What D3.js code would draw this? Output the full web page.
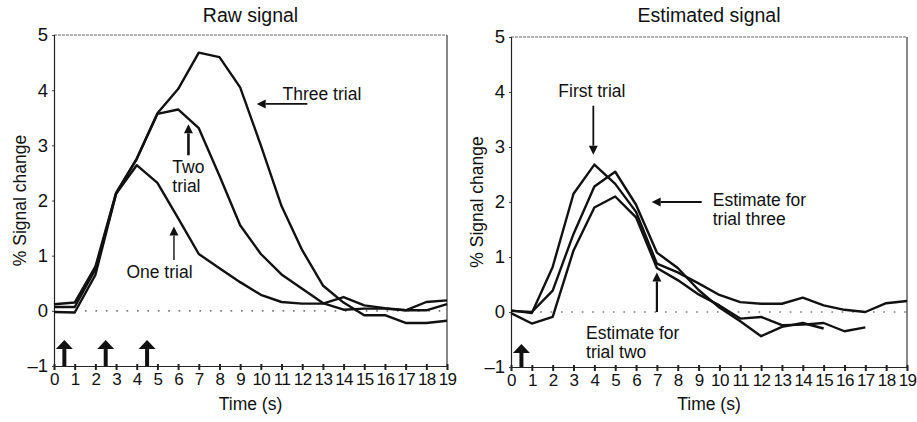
<!DOCTYPE html>
<html>
<head>
<meta charset="utf-8">
<script src="https://cdn.jsdelivr.net/npm/d3@7"></script>
<style>
  html, body { margin: 0; padding: 0; background: #fff; }
  svg { display: block; font-family: "Liberation Sans", Arial, sans-serif; }
</style>
</head>
<body>
<svg id="chart" width="917" height="422"></svg>
<script>
// Time axis (seconds) and tick labels
const timeTicks = d3.range(0, 20);
const valueTicks = [-1, 0, 1, 2, 3, 4, 5];

// Raw signal: percent signal change for one, two and three trials
const rawOneTrial   = [-0.02, -0.03, 0.65, 2.12, 2.64, 2.32, 1.68, 1.03, 0.77, 0.52, 0.29, 0.16, 0.13, 0.13, 0.25, 0.10, 0.05, 0.01, 0.16, 0.19];
const rawTwoTrial   = [0.07, 0.07, 0.75, 2.12, 2.75, 3.57, 3.65, 3.31, 2.45, 1.55, 1.03, 0.66, 0.40, 0.14, 0.02, 0.04, 0.04, 0.01, 0.01, 0.12];
const rawThreeTrial = [0.12, 0.15, 0.80, 2.14, 2.76, 3.58, 4.02, 4.68, 4.60, 4.05, 3.00, 1.90, 1.10, 0.46, 0.15, -0.08, -0.08, -0.22, -0.22, -0.18];

// Estimated signal: first trial and the estimates recovered for trials two and three
const estFirstTrial = [0.03, -0.02, 0.82, 2.15, 2.68, 2.33, 1.82, 0.88, 0.72, 0.52, 0.31, 0.18, 0.15, 0.15, 0.26, 0.12, 0.04, 0.00, 0.16, 0.20];
const estTrialTwo   = [-0.02, -0.21, -0.09, 1.12, 1.90, 2.10, 1.72, 0.80, 0.58, 0.32, 0.12, -0.12, -0.09, -0.24, -0.23, -0.20, -0.35, -0.28];
const estTrialThree = [0.02, 0.00, 0.39, 1.42, 2.28, 2.55, 1.95, 1.08, 0.80, 0.40, 0.08, -0.17, -0.44, -0.27, -0.20, -0.30];

// Stimulus onsets (s)
const rawOnsets = [0.5, 2.5, 4.5];
const estOnsets = [0.5];

const svg = d3.select("#chart");

const panels = [
  {
    title: "Raw signal",
    xr: [54, 447], yr: [366, 35],
    series: [rawOneTrial, rawTwoTrial, rawThreeTrial],
    onsets: rawOnsets, onsetTop: -0.53,
    zeroFrom: 1.5,
    arrows: [
      { from: [12.25, 3.75], to: [9.8, 3.75], w: 1.8 },
      { from: [6.5, 2.82], to: [6.5, 3.38], w: 2.6 },
      { from: [5.8, 0.92], to: [5.8, 1.53], w: 1.4 }
    ],
    labels: [
      { t: 11.05, v: 3.93, lines: ["Three trial"], anchor: "start" },
      { t: 5.72, v: 2.6, lines: ["Two", "trial"], anchor: "start" },
      { t: 5.1, v: 0.7, lines: ["One trial"], anchor: "middle" }
    ]
  },
  {
    title: "Estimated signal",
    xr: [511, 907], yr: [367, 37],
    series: [estFirstTrial, estTrialTwo, estTrialThree],
    onsets: estOnsets, onsetTop: -0.58,
    zeroFrom: 1.4,
    arrows: [
      { from: [3.95, 3.75], to: [3.95, 2.86], w: 1.8 },
      { from: [9.15, 2.0], to: [6.75, 2.0], w: 1.8 },
      { from: [7.0, 0.0], to: [7.0, 0.72], w: 2.2 }
    ],
    labels: [
      { t: 3.88, v: 4.02, lines: ["First trial"], anchor: "middle" },
      { t: 9.68, v: 2.04, lines: ["Estimate for", "trial three"], anchor: "start" },
      { t: 3.6, v: -0.38, lines: ["Estimate for", "trial two"], anchor: "start" }
    ]
  }
];

panels.forEach(p => {
  const x = d3.scaleLinear().domain([0, 19]).range(p.xr);
  const y = d3.scaleLinear().domain([-1, 5]).range(p.yr);
  const g = svg.append("g");

  // Frame: light top and right edges
  g.append("line")
    .attr("x1", x(0)).attr("x2", x(19)).attr("y1", y(5)).attr("y2", y(5))
    .attr("stroke", "#9a9a9a").attr("stroke-width", 1.3).attr("stroke-dasharray", "3,1");
  g.append("line")
    .attr("x1", x(19)).attr("x2", x(19)).attr("y1", y(5)).attr("y2", y(-1))
    .attr("stroke", "#555").attr("stroke-width", 1.4);

  // Zero reference (dotted)
  g.append("line")
    .attr("x1", x(p.zeroFrom)).attr("x2", x(19)).attr("y1", y(0)).attr("y2", y(0))
    .attr("stroke", "#777").attr("stroke-width", 1.6).attr("stroke-dasharray", "1.6,8.8");

  // Axes
  const xAxis = d3.axisBottom(x).tickValues(timeTicks).tickFormat(d3.format("d"))
    .tickSize(4).tickPadding(3);
  const gx = g.append("g").attr("transform", `translate(0,${y(-1)})`).call(xAxis);
  gx.select(".domain").attr("stroke", "#222").attr("stroke-width", 1.2);
  gx.selectAll(".tick line").attr("stroke", "#222").attr("stroke-width", 2).attr("y1", -2);
  gx.selectAll(".tick text").attr("font-size", 17).attr("fill", "#111")
    .attr("font-family", "Liberation Sans, Arial, sans-serif").attr("letter-spacing", "-0.6");

  const yAxis = d3.axisLeft(y).tickValues(valueTicks)
    .tickFormat(d => d < 0 ? "\u2013" + Math.abs(d) : d).tickSize(2).tickPadding(4);
  const gy = g.append("g").attr("transform", `translate(${x(0)},0)`).call(yAxis);
  gy.select(".domain").attr("stroke", "#222").attr("stroke-width", 1.2);
  gy.selectAll(".tick line").attr("stroke", "#444");
  gy.selectAll(".tick text").attr("font-size", 18.5).attr("fill", "#111")
    .attr("font-family", "Liberation Sans, Arial, sans-serif");

  // Title and axis titles
  const cx = (p.xr[0] + p.xr[1]) / 2;
  g.append("text").attr("x", cx).attr("y", 22).attr("text-anchor", "middle")
    .attr("font-size", 19.5).attr("fill", "#111").text(p.title);
  g.append("text").attr("x", cx).attr("y", 410).attr("text-anchor", "middle")
    .attr("font-size", 17.5).attr("fill", "#111").text("Time (s)");
  g.append("text")
    .attr("transform", `translate(${p.xr[0] - 34},${(y(-1) + y(5)) / 2}) rotate(-90)`)
    .attr("text-anchor", "middle").attr("dominant-baseline", "central")
    .attr("font-size", 17.5).attr("fill", "#111").text("% Signal change");

  // Signal curves
  const line = d3.line().x((d, i) => x(i)).y(d => y(d));
  p.series.forEach(s => {
    g.append("path").datum(s).attr("d", line)
      .attr("fill", "none").attr("stroke", "#111").attr("stroke-width", 2.4)
      .attr("stroke-linejoin", "round");
  });

  // Arrow helper: shaft plus filled head
  function arrow(x1, y1, x2, y2, w, headLen, headW) {
    const ang = Math.atan2(y2 - y1, x2 - x1);
    const bx = x2 - headLen * Math.cos(ang), by = y2 - headLen * Math.sin(ang);
    g.append("line").attr("x1", x1).attr("y1", y1).attr("x2", bx).attr("y2", by)
      .attr("stroke", "#111").attr("stroke-width", w);
    const nx = -Math.sin(ang) * headW / 2, ny = Math.cos(ang) * headW / 2;
    g.append("path")
      .attr("d", `M${x2},${y2}L${bx + nx},${by + ny}L${bx - nx},${by - ny}Z`)
      .attr("fill", "#111");
  }

  // Stimulus onset arrows
  p.onsets.forEach(t => {
    arrow(x(t), y(-1), x(t), y(p.onsetTop), 4, 9, 17);
  });

  // Annotation arrows and labels
  p.arrows.forEach(a => {
    arrow(x(a.from[0]), y(a.from[1]), x(a.to[0]), y(a.to[1]), a.w, 9, 9);
  });
  p.labels.forEach(l => {
    l.lines.forEach((txt, i) => {
      g.append("text")
        .attr("x", x(l.t)).attr("y", y(l.v) + i * 19)
        .attr("text-anchor", l.anchor).attr("dominant-baseline", "central")
        .attr("font-size", 17.5).attr("fill", "#111").text(txt);
    });
  });
});
</script>
</body>
</html>
